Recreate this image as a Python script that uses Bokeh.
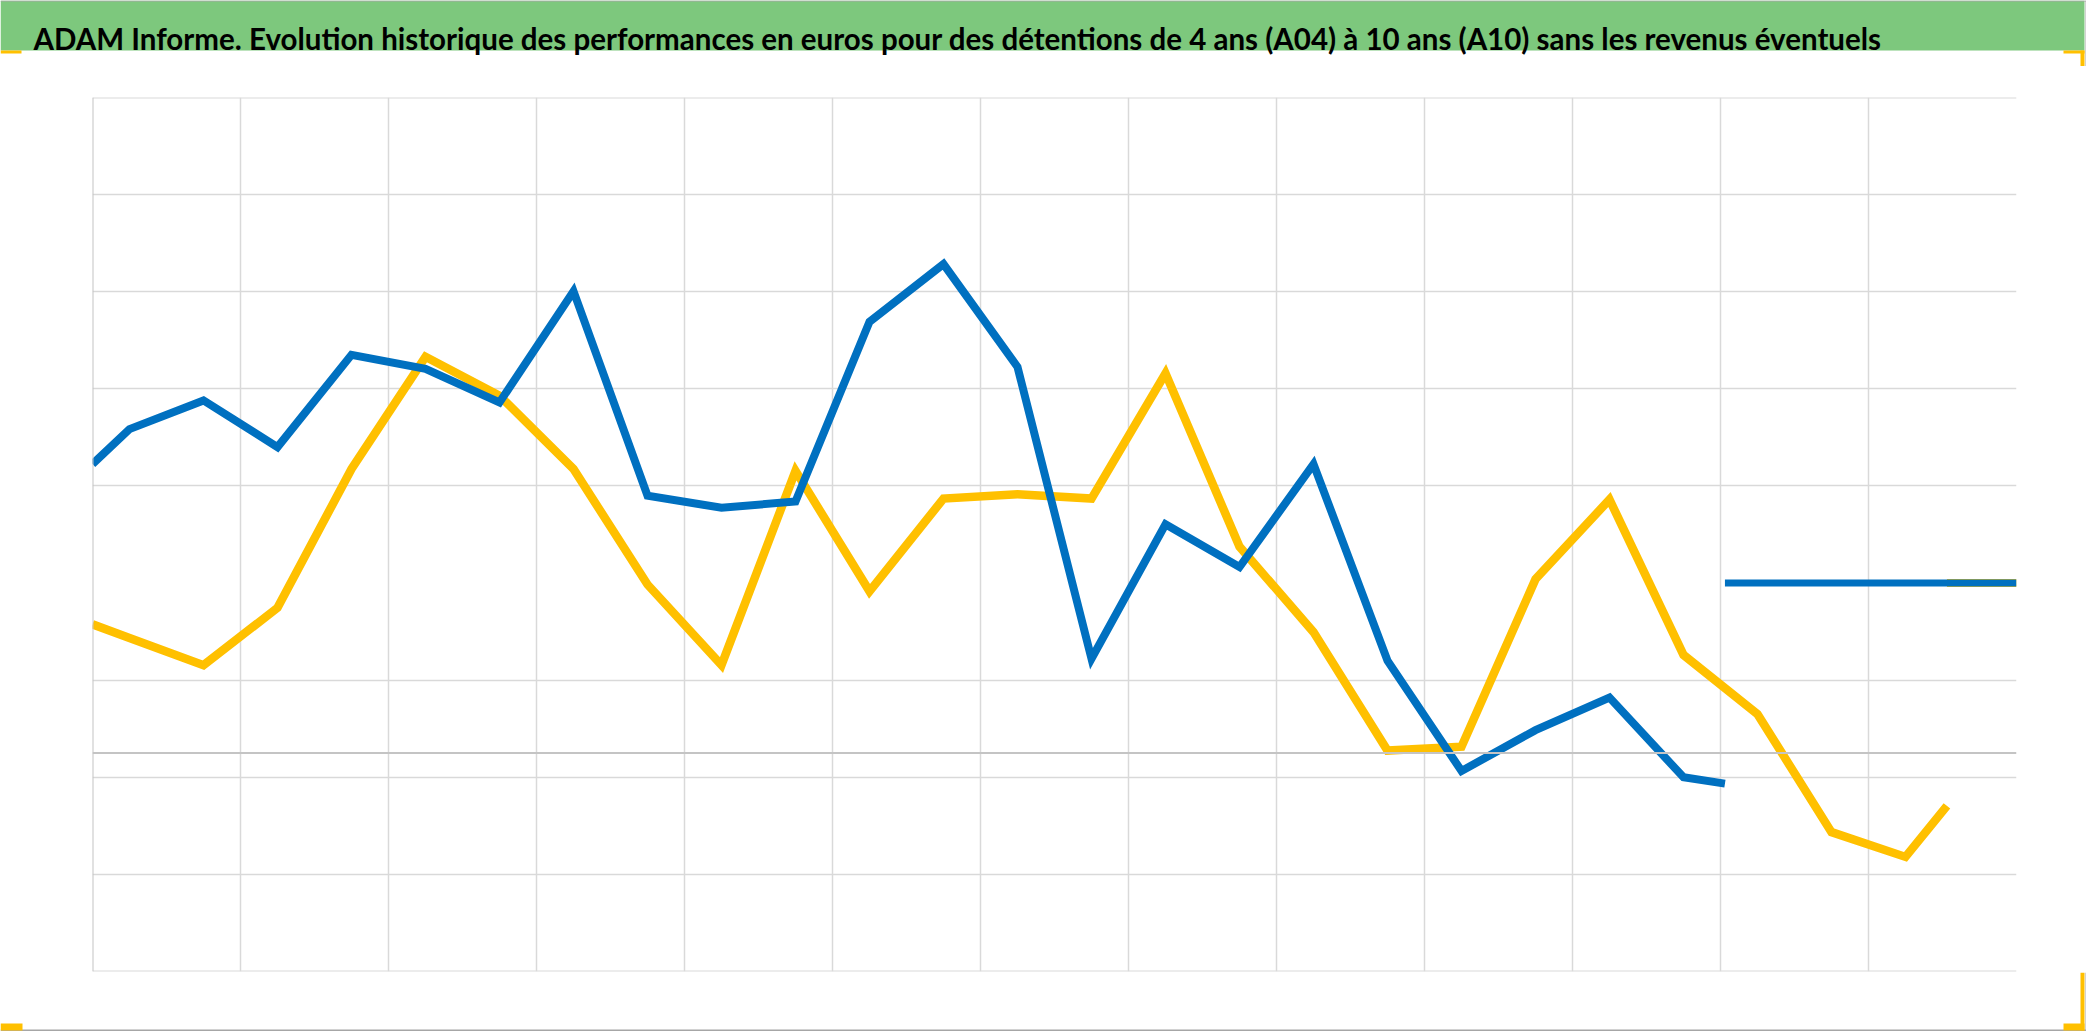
from bokeh.plotting import figure
from bokeh.layouts import column
from bokeh.models import Range1d, Grid, FixedTicker, Span
from bokeh.core.properties import value
from bokeh.embed import file_html
from bokeh.resources import INLINE

TITLE = ("ADAM Informe. Evolution historique des performances en euros pour des "
         "détentions de 4 ans (A04) à 10 ans (A10) sans les revenus éventuels")

# x positions in "period" units (vertical gridlines at 0..12)
x_a04 = [0, 0.25, 0.75, 1.25, 1.75, 2.25, 2.75, 3.25, 3.75, 4.25, 4.75, 5.25,
         5.75, 6.25, 6.75, 7.25, 7.75, 8.25, 8.75, 9.25, 9.75, 10.25, 10.75, 11.03]
a04 = [0.595, 0.667, 0.726, 0.630, 0.820, 0.791, 0.722, 0.951, 0.530, 0.505,
       0.518, 0.888, 1.007, 0.795, 0.194, 0.471, 0.383, 0.595, 0.190, -0.037,
       0.047, 0.114, -0.050, -0.063]

x_a10 = [0, 0.25, 0.75, 1.25, 1.75, 2.25, 2.75, 3.25, 3.75, 4.25, 4.75, 5.25,
         5.75, 6.25, 6.75, 7.25, 7.75, 8.25, 8.75, 9.25, 9.75, 10.25, 10.75,
         11.25, 11.75, 12.25, 12.53]
a10 = [0.265, 0.237, 0.181, 0.299, 0.585, 0.816, 0.736, 0.585, 0.347, 0.181,
       0.581, 0.333, 0.524, 0.533, 0.524, 0.782, 0.425, 0.249, 0.005, 0.013,
       0.358, 0.522, 0.202, 0.080, -0.163, -0.214, -0.109]

flat_x_a04 = [11.03, 13.0]
flat_x_a10 = [12.53, 13.0]
flat_level = [0.35, 0.35]

x_grid_ticks = [1, 2, 3, 4, 5, 6, 7, 8, 9, 10, 11, 12]
y_grid_ticks = [-0.25, -0.05, 0.15, 0.55, 0.75, 0.95, 1.15]
X0, X1 = 0, 13
Y0, Y1 = -0.45, 1.35

BLUE = "#0070C0"
GOLD = "#FFC000"
GREEN = "#7DC87D"
GRID = "#D9D9D9"
AXIS = "#C4C4C4"
EDGE = "#A6A6A6"

W = 2086
TOP_H, MAIN_H, BOT_H = 66, 906, 59


def deco_fig(h, y_top):
    f = figure(width=W, height=h, x_range=Range1d(0, W), y_range=Range1d(y_top + h, y_top),
               x_axis_location=None, y_axis_location=None, min_border=0,
               toolbar_location=None, output_backend="svg")
    f.frame_align = False
    f.outline_line_color = None
    f.background_fill_color = "white"
    f.border_fill_color = "white"
    f.center = []
    return f


# ---- header: green title band + selection handles
top = deco_fig(TOP_H, 0)
top.quad(left=0, right=2084, top=0, bottom=50, fill_color=GREEN, line_color=None)
top.quad(left=0, right=2086, top=0, bottom=1, fill_color=EDGE, line_color=None)
top.quad(left=2085, right=2086, top=0, bottom=TOP_H, fill_color=EDGE, line_color=None)
top.quad(left=0, right=21, top=50, bottom=53, fill_color=GOLD, line_color=None)
top.quad(left=2063, right=2084, top=50, bottom=53, fill_color=GOLD, line_color=None)
top.quad(left=2080, right=2084, top=50, bottom=66, fill_color=GOLD, line_color=None)
top.text(x=[33], y=[38], text=[TITLE], text_font=value("Lato"),
         text_font_style="bold", text_font_size="29.5px", text_color="black",
         text_align="left", text_baseline="alphabetic")

# ---- main chart
p = figure(width=W, height=MAIN_H, x_range=Range1d(X0, X1), y_range=Range1d(Y0, Y1),
           x_axis_location=None, y_axis_location=None,
           min_border_left=92, min_border_right=70, min_border_top=31, min_border_bottom=1,
           toolbar_location=None, output_backend="svg")
p.frame_align = False
p.outline_line_color = None
p.background_fill_color = "white"
p.border_fill_color = "white"
p.center = []

p.add_layout(Grid(dimension=0, ticker=FixedTicker(ticks=x_grid_ticks),
                  grid_line_color=GRID, grid_line_width=1.5))
p.add_layout(Grid(dimension=1, ticker=FixedTicker(ticks=y_grid_ticks),
                  grid_line_color=GRID, grid_line_width=1.5))
p.add_layout(Span(location=Y1, dimension="width", line_color=GRID, line_width=2))
p.add_layout(Span(location=Y0, dimension="width", line_color=GRID, line_width=2))
p.add_layout(Span(location=0, dimension="width", line_color=AXIS, line_width=2))
p.add_layout(Span(location=X0, dimension="height", line_color=AXIS, line_width=2))

p.line(x_a10, a10, line_color=GOLD, line_width=8.5, line_join="miter")
p.line(flat_x_a10, flat_level, line_color=GOLD, line_width=8)
p.line(x_a04, a04, line_color=BLUE, line_width=8, line_join="miter")
p.line(flat_x_a04, flat_level, line_color=BLUE, line_width=7)

# ---- footer: frame edge + selection handles
bot = deco_fig(BOT_H, TOP_H + MAIN_H)
bot.quad(left=2085, right=2086, top=972, bottom=1031, fill_color=EDGE, line_color=None)
bot.quad(left=0, right=2086, top=1029, bottom=1031, fill_color=EDGE, line_color=None)
bot.quad(left=0, right=22, top=1023, bottom=1030, fill_color=GOLD, line_color=None)
bot.quad(left=2080, right=2084, top=972, bottom=1030, fill_color=GOLD, line_color=None)
bot.quad(left=2063, right=2084, top=1023, bottom=1030, fill_color=GOLD, line_color=None)

layout = column(top, p, bot, spacing=0)
open("out.html", "w").write(file_html(layout, INLINE))
